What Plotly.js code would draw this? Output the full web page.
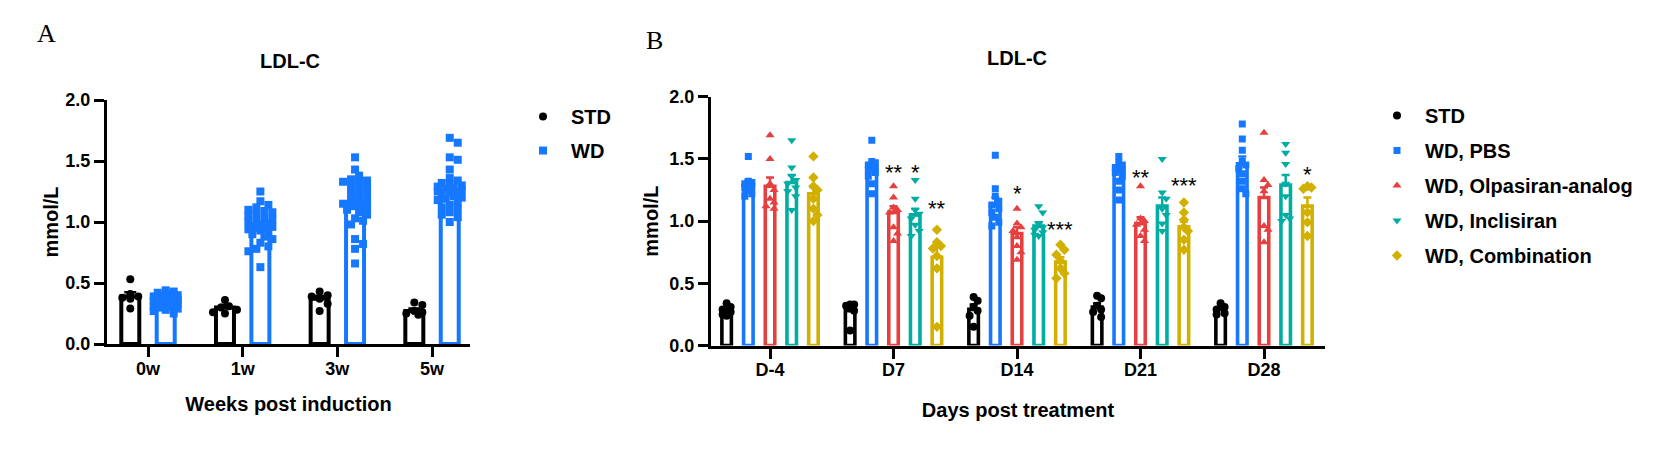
<!DOCTYPE html>
<html><head><meta charset="utf-8">
<script src="https://cdn.plot.ly/plotly-3.0.1.min.js"></script>
<style>html,body{margin:0;padding:0;background:#fff;}#chart{width:1661px;height:461px;}</style>
</head><body><div id="chart"></div>
<script>
// ---------------- DATA ----------------
// Panel A
const weeks = ['0w', '1w', '3w', '5w'];
const seriesA = ['STD', 'WD'];
const stdA_mean = [0.39, 0.30, 0.37, 0.27];
const stdA_sem  = [0.035, 0.02, 0.025, 0.02];
const wdA_mean  = [0.35, 0.97, 1.15, 1.26];
const wdA_sem   = [0.01, 0.025, 0.035, 0.025];
const stdA_pts = [
  [0.53, 0.41, 0.39, 0.38, 0.37, 0.29],
  [0.36, 0.31, 0.30, 0.28, 0.26, 0.25],
  [0.43, 0.40, 0.39, 0.37, 0.33, 0.27],
  [0.34, 0.32, 0.27, 0.26, 0.25, 0.24]
];
const wdA_pts = [
  [0.44,0.43,0.42,0.41,0.40,0.40,0.39,0.38,0.38,0.37,0.37,0.36,0.36,0.35,0.35,0.35,0.34,0.34,0.33,0.33,0.32,0.32,0.31,0.31,0.30,0.30,0.29,0.28,0.27,0.25],
  [1.25,1.17,1.14,1.12,1.10,1.09,1.08,1.07,1.05,1.03,1.02,1.01,1.00,0.99,0.98,0.97,0.96,0.95,0.95,0.94,0.93,0.92,0.90,0.88,0.86,0.83,0.80,0.78,0.76,0.63],
  [1.53,1.43,1.38,1.35,1.34,1.33,1.32,1.30,1.28,1.26,1.24,1.22,1.20,1.18,1.16,1.15,1.14,1.14,1.13,1.12,1.10,1.08,1.06,1.03,1.01,0.98,0.86,0.82,0.78,0.66],
  [1.69,1.65,1.53,1.51,1.43,1.36,1.34,1.32,1.31,1.30,1.29,1.28,1.27,1.26,1.25,1.24,1.23,1.22,1.21,1.20,1.19,1.18,1.16,1.14,1.12,1.10,1.08,1.06,1.04,1.00]
];

// Panel B
const days = ['D-4', 'D7', 'D14', 'D21', 'D28'];
const seriesB = ['STD', 'WD, PBS', 'WD, Olpasiran-analog', 'WD, Inclisiran', 'WD, Combination'];
const std_mean   = [0.28, 0.28, 0.29, 0.31, 0.29];
const pbs_mean   = [1.30, 1.42, 1.13, 1.40, 1.46];
const olp_mean   = [1.28, 1.07, 0.90, 0.98, 1.19];
const incl_mean  = [1.31, 1.05, 0.96, 1.12, 1.29];
const combo_mean = [1.22, 0.71, 0.67, 0.955, 1.12];
const std_sem   = [0.02, 0.03, 0.04, 0.03, 0.02];
const pbs_sem   = [0.03, 0.05, 0.06, 0.04, 0.06];
const olp_sem   = [0.07, 0.05, 0.05, 0.05, 0.08];
const incl_sem  = [0.06, 0.05, 0.03, 0.07, 0.08];
const combo_sem = [0.05, 0.09, 0.04, 0.04, 0.07];
const std_pts = [
  [0.34,0.31,0.29,0.27,0.25,0.24],
  [0.33,0.33,0.32,0.30,0.28,0.12],
  [0.39,0.36,0.31,0.28,0.24,0.15],
  [0.40,0.38,0.32,0.29,0.27,0.23],
  [0.34,0.31,0.29,0.26,0.25]
];
const pbs_pts = [
  [1.52,1.32,1.31,1.30,1.29,1.28,1.27,1.25,1.22,1.20],
  [1.65,1.48,1.47,1.45,1.43,1.41,1.39,1.36,1.30,1.22],
  [1.53,1.26,1.20,1.16,1.13,1.10,1.07,1.03,0.99,0.96],
  [1.52,1.47,1.45,1.43,1.41,1.39,1.36,1.32,1.25,1.17],
  [1.78,1.66,1.57,1.48,1.45,1.42,1.38,1.32,1.26,1.22]
];
const olp_pts = [
  [1.69,1.50,1.30,1.25,1.18,1.15,1.12,1.10],
  [1.28,1.19,1.11,1.09,1.07,0.95,0.90,0.84],
  [1.10,0.98,0.95,0.92,0.87,0.80,0.75,0.69],
  [1.28,1.02,1.00,0.97,0.93,0.88,0.84],
  [1.71,1.33,1.29,1.24,0.96,0.93,0.83]
];
const incl_pts = [
  [1.65,1.43,1.36,1.33,1.30,1.27,1.24,1.20,1.09],
  [1.33,1.18,1.09,1.06,1.02,0.97,0.92,0.88],
  [1.12,1.07,0.98,0.95,0.93,0.91,0.89,0.88],
  [1.50,1.23,1.18,1.10,1.05,0.98,0.92],
  [1.62,1.55,1.46,1.30,1.20,1.05,1.02,1.00]
];
const combo_pts = [
  [1.52,1.35,1.28,1.25,1.18,1.10,1.05,1.00],
  [0.93,0.83,0.80,0.78,0.72,0.62,0.15],
  [0.81,0.77,0.73,0.68,0.62,0.58,0.54],
  [1.15,1.07,1.01,0.95,0.92,0.85,0.77],
  [1.28,1.27,1.26,1.07,0.99,0.88]
];
// significance marks: [day index, series index, label, height]
const star_day   = [1, 1, 1, 2, 2, 3, 3, 4];
const star_group = [2, 3, 4, 2, 4, 2, 4, 4];
const star_text  = ['**', '*', '**', '*', '***', '**', '***', '*'];
const star_y     = [1.41, 1.41, 1.12, 1.24, 0.95, 1.37, 1.30, 1.39];

// ---------------- STYLE / LAYOUT ----------------
const W = 1661, H = 461;
const px = v => v / W, py = v => 1 - v / H;
const FONT = 'Liberation Sans, Arial, Helvetica, sans-serif';
const COL = {black: '#000000', blue: '#1677FF', red: '#E5403F', teal: '#00ADA2', gold: '#D2B000'};

// pixel scales of each panel (used only for de-overlapping dots)
const A_pxPerCat = 94.67, A_pxPerVal = 122;
const B_pxPerCat = 123.5, B_pxPerVal = 124.4;

function swarm(vals, pxPerVal, d, maxOff) {
  const order = vals.map((v, i) => i).sort((a, b) => vals[b] - vals[a] || a - b);
  const placed = [], res = new Array(vals.length).fill(0);
  for (const i of order) {
    const y = vals[i] * pxPerVal;
    let best = 0, bestScore = -1;
    for (let k = 0; k < 60; k++) {
      const c = k === 0 ? 0 : (k % 2 ? 1 : -1) * Math.ceil(k / 2) * d * 0.5;
      if (Math.abs(c) > maxOff) break;
      let minD = Infinity;
      for (const p of placed) minD = Math.min(minD, Math.hypot(p.x - c, p.y - y));
      if (minD >= d * 0.8) { best = c; bestScore = Infinity; break; }
      if (minD > bestScore) { bestScore = minD; best = c; }
    }
    placed.push({x: best, y}); res[i] = best;
  }
  return res;
}

const traces = [];
function addGroup(opt) {
  const {cats, means, sems, pts, offset, width, color, lw, xa, ya, name, symbol, msize, pxCat, pxVal, spread, legend, capw} = opt;
  const bx = cats.map((c, i) => i + offset);
  traces.push({
    type: 'bar', x: bx, y: means, width: width, xaxis: xa, yaxis: ya, showlegend: false,
    marker: {color: '#ffffff', line: {color: color, width: lw}},
    error_y: {type: 'data', symmetric: false, array: sems, arrayminus: sems.map(() => 0), color: color, thickness: 2.5, width: capw},
    hoverinfo: 'skip'
  });
  const sx = [], sy = [];
  pts.forEach((arr, i) => {
    const offs = swarm(arr, pxVal, msize, spread);
    arr.forEach((v, j) => { sx.push(i + offset + offs[j] / pxCat); sy.push(v); });
  });
  traces.push({
    type: 'scatter', mode: 'markers', x: sx, y: sy, xaxis: xa, yaxis: ya, name: name,
    legend: legend, legendgroup: name, showlegend: true,
    marker: {color: color, symbol: symbol, size: msize, line: {width: 0}}
  });
}

// Panel A
const aOff = 0.187, aW = 0.19;
addGroup({cats: weeks, means: stdA_mean, sems: stdA_sem, pts: stdA_pts, offset: -aOff, width: aW, color: COL.black, lw: 4,
  xa: 'x', ya: 'y', name: seriesA[0], symbol: 'circle', msize: 8, pxCat: A_pxPerCat, pxVal: A_pxPerVal, spread: 12, legend: 'legend', capw: 6});
addGroup({cats: weeks, means: wdA_mean, sems: wdA_sem, pts: wdA_pts, offset: aOff, width: aW, color: COL.blue, lw: 4,
  xa: 'x', ya: 'y', name: seriesA[1], symbol: 'square', msize: 8, pxCat: A_pxPerCat, pxVal: A_pxPerVal, spread: 13, legend: 'legend', capw: 6});

// Panel B
const bStep = 0.1757, bW = 0.077;
const bMeans = [std_mean, pbs_mean, olp_mean, incl_mean, combo_mean];
const bSems = [std_sem, pbs_sem, olp_sem, incl_sem, combo_sem];
const bPts = [std_pts, pbs_pts, olp_pts, incl_pts, combo_pts];
const bCols = [COL.black, COL.blue, COL.red, COL.teal, COL.gold];
const bSyms = ['circle', 'square', 'triangle-up', 'triangle-down', 'diamond'];
const bSizes = [8, 7, 8, 8, 8];
seriesB.forEach((nm, g) => {
  addGroup({cats: days, means: bMeans[g], sems: bSems[g], pts: bPts[g], offset: (g - 2) * bStep, width: bW, color: bCols[g], lw: 3.6,
    xa: 'x2', ya: 'y2', name: nm, symbol: bSyms[g], msize: bSizes[g], pxCat: B_pxPerCat, pxVal: B_pxPerVal, spread: 6, legend: 'legend2', capw: 4});
});

const axCommon = {
  showline: true, linewidth: 3, linecolor: '#000', ticks: 'outside', ticklen: 10, tickwidth: 3, tickcolor: '#000',
  showgrid: false, zeroline: false, fixedrange: true
};
const tickFont = {family: FONT, size: 18, color: '#000', weight: 'bold'};
const titleFont = {family: FONT, size: 20, color: '#000', weight: 'bold'};

const annotations = [
  {text: 'A', x: px(46), y: py(33), xref: 'paper', yref: 'paper', showarrow: false, xanchor: 'center', yanchor: 'middle',
   font: {family: 'Liberation Serif, Times New Roman, serif', size: 26, color: '#000'}},
  {text: 'B', x: px(654), y: py(40), xref: 'paper', yref: 'paper', showarrow: false, xanchor: 'center', yanchor: 'middle',
   font: {family: 'Liberation Serif, Times New Roman, serif', size: 26, color: '#000'}},
  {text: 'LDL-C', x: px(290), y: py(61), xref: 'paper', yref: 'paper', showarrow: false, xanchor: 'center', yanchor: 'middle', font: titleFont},
  {text: 'LDL-C', x: px(1017), y: py(57.5), xref: 'paper', yref: 'paper', showarrow: false, xanchor: 'center', yanchor: 'middle', font: titleFont}
];
star_text.forEach((t, k) => {
  annotations.push({text: t, x: star_day[k] + (star_group[k] - 2) * bStep, y: star_y[k], xref: 'x2', yref: 'y2',
    showarrow: false, xanchor: 'center', yanchor: 'middle', yshift: -2, font: {family: FONT, size: 22, color: '#000'}});
});

const layout = {
  width: W, height: H, margin: {l: 0, r: 0, t: 0, b: 0}, paper_bgcolor: '#fff', plot_bgcolor: 'rgba(0,0,0,0)',
  showlegend: true, barmode: 'overlay',
  xaxis: Object.assign({}, axCommon, {domain: [px(107), px(470)], range: [-0.433, 3.401], anchor: 'y',
    tickvals: weeks.map((w, i) => i), ticktext: weeks, tickfont: tickFont, ticklabelstandoff: -4,
    title: {text: 'Weeks post induction', font: titleFont, standoff: 20}}),
  yaxis: Object.assign({}, axCommon, {domain: [py(344), py(100)], range: [0, 2], anchor: 'x',
    tickvals: [0, 0.5, 1, 1.5, 2], ticktext: ['0.0', '0.5', '1.0', '1.5', '2.0'], tickfont: tickFont,
    title: {text: 'mmol/L', font: titleFont, standoff: 2}}),
  xaxis2: Object.assign({}, axCommon, {domain: [px(711), px(1325)], range: [-0.478, 4.494], anchor: 'y2',
    tickvals: days.map((d, i) => i), ticktext: days, tickfont: tickFont, ticklabelstandoff: -4,
    title: {text: 'Days post treatment', font: titleFont, standoff: 24}}),
  yaxis2: Object.assign({}, axCommon, {domain: [py(345.5), py(96.7)], range: [0, 2], anchor: 'x2',
    tickvals: [0, 0.5, 1, 1.5, 2], ticktext: ['0.0', '0.5', '1.0', '1.5', '2.0'], tickfont: tickFont,
    title: {text: 'mmol/L', font: titleFont, standoff: 6}}),
  legend: {x: px(515), y: py(97), xanchor: 'left', yanchor: 'top', itemwidth: 46, traceorder: 'grouped', tracegroupgap: 5,
    font: {family: FONT, size: 20, color: '#000', weight: 'bold'}, bgcolor: 'rgba(0,0,0,0)', borderwidth: 0},
  legend2: {x: px(1369), y: py(96), xanchor: 'left', yanchor: 'top', itemwidth: 46, traceorder: 'grouped', tracegroupgap: 6,
    font: {family: FONT, size: 20, color: '#000', weight: 'bold'}, bgcolor: 'rgba(0,0,0,0)', borderwidth: 0},
  annotations: annotations
};

Plotly.newPlot('chart', traces, layout, {staticPlot: true, displayModeBar: false});
</script></body></html>
